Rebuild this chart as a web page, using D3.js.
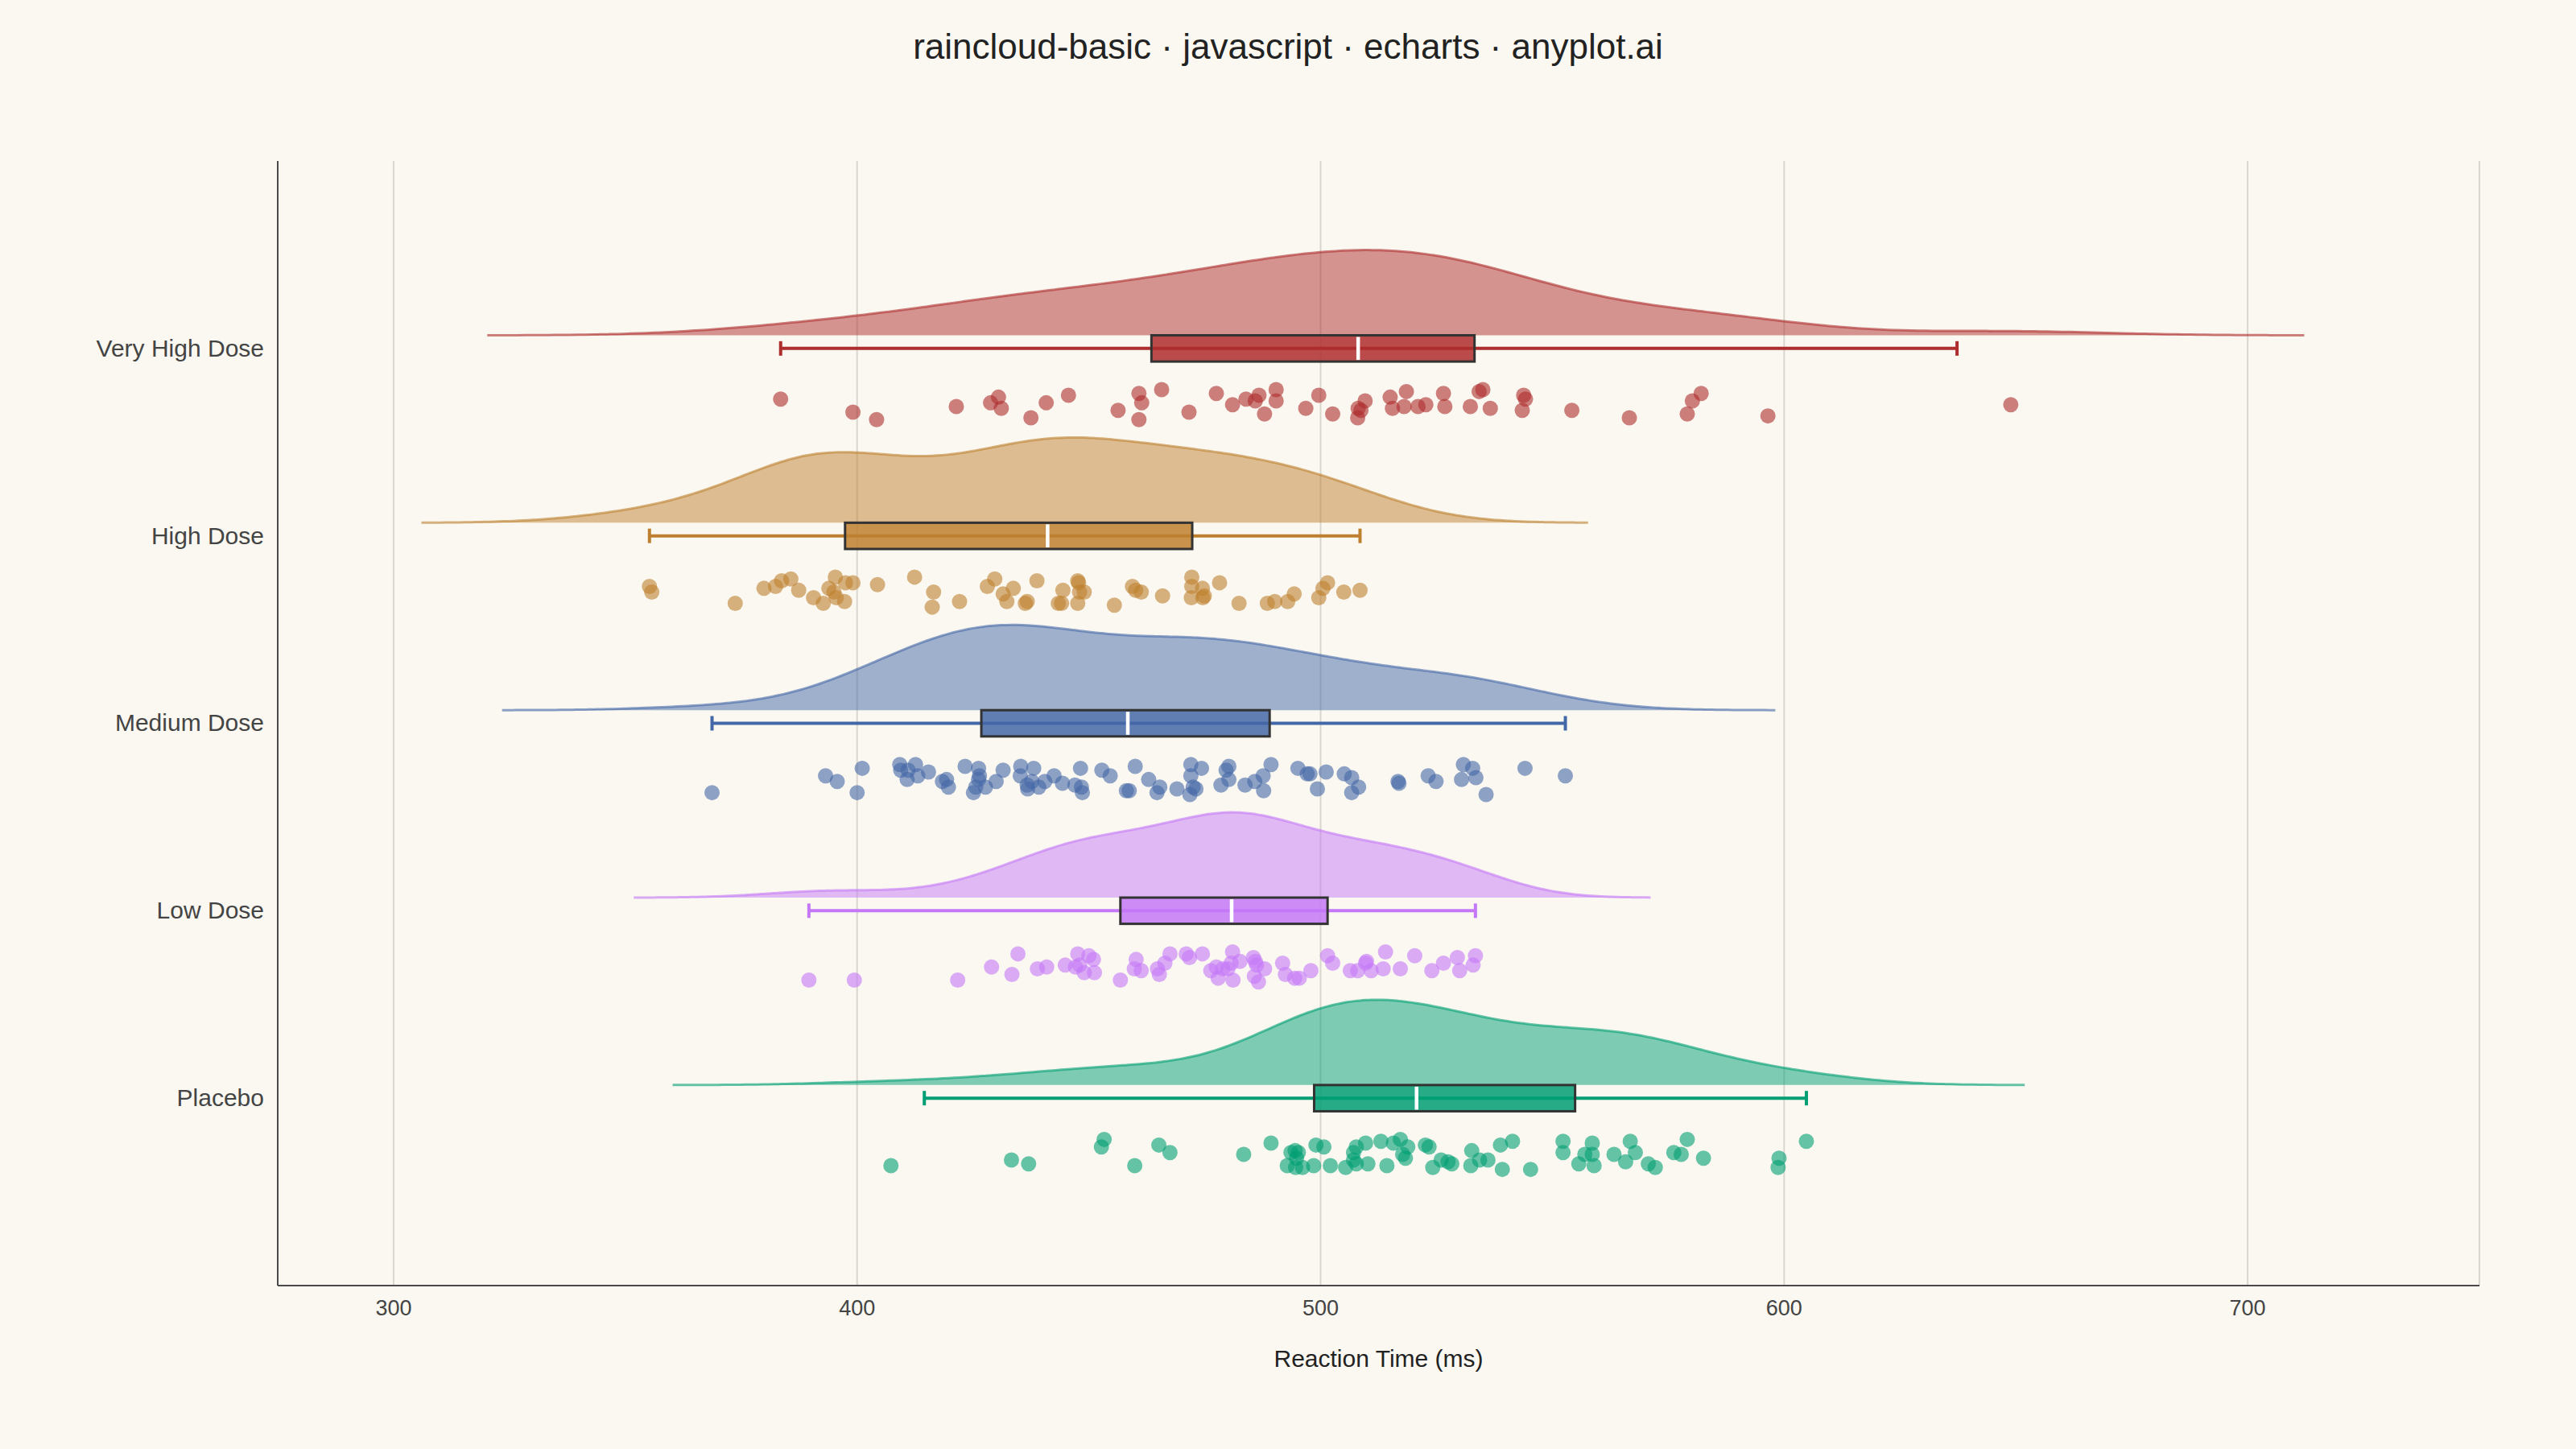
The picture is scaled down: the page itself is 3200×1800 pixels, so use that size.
<!DOCTYPE html>
<html>
<head>
<meta charset="utf-8">
<script src="https://cdn.jsdelivr.net/npm/d3@7"></script>
<style>
body { margin: 0; background: #faf8f1; }
text { font-family: "Liberation Sans", Arial, sans-serif; }
</style>
</head>
<body>
<div id="chart"></div>
<script>
"use strict";

// categories bottom -> top
var categories = ["Placebo", "Low Dose", "Medium Dose", "High Dose", "Very High Dose"];
var colors = ["#009E73", "#C478F7", "#4468A7", "#BE802F", "#AE2D2D"];
var xTicks = [300, 400, 500, 600, 700];

// reaction times (ms) and the vertical jitter of each drop (% of a row, below the box)
var placeboRT = [407.3,433.3,437.0,453.3,452.7,459.9,465.1,467.5,483.4,489.3,493.6,494.5,495.2,494.8,492.8,494.6,496.1,498.5,499.0,500.7,
    502.1,505.4,507.7,507.1,507.1,507.7,509.7,510.2,513.0,514.3,515.7,517.2,518.8,517.7,518.3,522.6,523.4,524.2,526.0,527.5,
    528.3,532.6,532.4,534.3,536.1,538.8,541.4,539.2,545.3,552.3,552.3,555.7,557.0,558.6,558.6,559.0,563.3,566.8,567.9,565.8,
    570.7,572.2,576.2,577.8,579.1,582.6,598.9,598.7,604.8];
var placeboJitter = [36,33,35,22,26,36,25,29,30,24,29,28,29,32,36,37,37,36,25,26,36,37,26,29,33,35,24,35,23,36,24,22,26,30,32,
    25,26,37,33,34,35,28,36,33,33,25,23,38,38,23,29,35,30,24,30,36,30,23,29,34,35,37,29,30,22,32,32,37,23];

var lowRT = [389.6,399.4,421.7,429.0,433.4,434.7,438.9,440.9,444.9,447.6,450.0,451.0,447.1,448.0,449.0,451.2,456.8,460.2,459.8,461.3,
    464.8,465.2,466.4,467.5,471.0,471.7,474.5,476.3,477.5,477.9,478.9,480.0,480.7,481.0,481.1,482.6,485.5,485.9,486.2,487.9,
    485.7,486.6,491.8,492.4,494.4,495.4,497.9,501.5,502.6,506.4,508.0,509.9,509.7,510.9,513.5,514.0,517.2,520.3,524.0,526.5,
    529.5,530.0,532.9,533.4];
var lowJitter = [37,37,37,30,34,23,31,30,29,23,24,26,30,29,33,33,37,26,31,32,31,34,28,23,23,25,23,32,30,36,31,31,28,22,37,
    27,25,27,29,31,35,38,28,34,36,36,32,24,28,32,32,27,28,32,31,22,31,24,32,28,25,32,29,24];

var mediumRT = [368.7,393.2,395.7,401.1,400.0,409.2,409.4,411.0,412.6,410.8,413.1,415.4,418.4,419.3,419.7,423.3,426.2,426.4,426.2,425.6,
    425.1,427.7,430.0,431.5,435.3,435.2,438.1,436.7,436.8,437.7,439.2,440.5,442.5,444.3,447.0,448.4,448.6,448.2,452.8,454.6,
    458.1,458.7,460.0,462.9,464.7,465.3,469.0,472.0,474.3,472.0,472.5,473.1,471.8,480.2,479.6,480.2,478.5,483.7,485.8,487.6,
    487.7,489.3,495.1,497.1,497.7,501.2,499.3,505.1,506.7,508.2,506.7,516.7,516.9,523.2,524.9,530.8,532.8,530.4,533.5,535.7,
    544.1,552.8];
var mediumJitter = [37,28,31,24,37,22,25,25,22,30,28,26,31,30,34,23,24,28,30,34,37,34,31,25,23,28,24,33,35,31,34,31,28,32,33,
    34,37,24,25,28,36,36,23,30,37,34,35,22,24,28,34,35,38,23,25,30,33,33,31,28,36,22,24,27,27,26,35,27,29,34,37,31,32,28,31,
    22,24,30,29,38,24,28];

var highRT = [355.2,355.7,373.7,379.9,382.4,383.7,385.7,387.4,390.6,392.7,393.9,395.3,395.0,395.5,397.3,397.5,399.1,404.4,412.4,416.5,
    416.2,422.1,428.1,429.7,431.5,432.3,433.7,436.3,436.7,438.8,444.4,443.4,444.1,447.6,447.8,448.0,449.0,447.6,455.5,459.4,
    460.1,461.3,465.9,472.2,472.2,472.1,474.5,474.9,474.6,478.2,482.4,488.5,490.1,492.9,494.3,499.6,500.5,501.5,505.0,508.5];
var highJitter = [27,30,36,28,27,24,23,29,33,36,28,22,30,33,35,25,25,26,22,30,38,35,27,23,31,35,28,36,35,24,29,36,36,24,25,
    30,30,36,37,27,29,30,32,22,27,33,28,32,33,25,36,36,35,35,31,33,28,25,30,29];

var veryHighRT = [383.5,399.1,404.2,421.4,428.8,430.5,431.1,437.5,440.8,445.6,456.3,460.8,461.4,460.8,465.7,471.6,477.5,481.0,483.9,485.9,
    486.7,490.4,490.4,487.9,496.8,499.6,502.6,508.1,509.6,508.0,508.7,515.0,515.5,518.5,518.0,521.0,522.7,526.5,526.8,532.3,
    534.2,535.0,536.6,543.8,544.2,543.5,554.2,566.6,579.1,580.2,582.1,596.5,648.9];
var veryHighJitter = [27,34,38,31,29,26,32,37,29,25,33,24,29,38,22,34,24,30,27,28,25,22,28,35,32,25,35,32,28,37,33,26,32,
    23,31,31,30,24,31,31,23,22,32,25,27,33,33,37,35,28,24,36,30];

// box plot statistics
var q1 = [498.6, 456.8, 426.8, 397.4, 463.5];
var medians = [520.7, 480.8, 458.4, 441.1, 508.1];
var q3 = [554.9, 501.5, 489.0, 472.3, 533.2];
var whiskerLow = [414.5, 389.6, 368.7, 355.2, 383.5];
var whiskerHigh = [604.8, 533.4, 552.8, 508.5, 637.3];
// kde bandwidth (ms), read from the extent of each cloud
var kdeBandwidth = [15.7, 12.6, 15.1, 16.4, 21.1];

var groups = [
    { rt: placeboRT, jitter: placeboJitter },
    { rt: lowRT, jitter: lowJitter },
    { rt: mediumRT, jitter: mediumJitter },
    { rt: highRT, jitter: highJitter },
    { rt: veryHighRT, jitter: veryHighJitter }
];

var W = 3200, H = 1800;
var margin = { left: 345, right: 120, top: 200, bottom: 203 };
var boxHalf = 0.07, cloudHeight = 0.455;

var x = d3.scaleLinear().domain([275, 750]).range([margin.left, W - margin.right]);
var y = d3.scaleLinear().domain([-1, 5]).range([H - margin.bottom, margin.top]);

var svg = d3.select("#chart")
    .append("svg")
    .attr("width", W)
    .attr("height", H)
    .style("background", "#faf8f1");

svg.append("text")
    .attr("x", W / 2)
    .attr("y", 73)
    .attr("text-anchor", "middle")
    .attr("font-size", 44)
    .attr("fill", "#222")
    .text("raincloud-basic · javascript · echarts · anyplot.ai");

// grid
svg.append("g").selectAll("line")
    .data(xTicks.concat([750]))
    .enter().append("line")
    .attr("x1", d => x(d)).attr("x2", d => x(d))
    .attr("y1", y(5)).attr("y2", y(-1))
    .attr("stroke", "#d9d6ce")
    .attr("stroke-width", 2);

function kde(values, bw) {
    var lo = d3.min(values) - 3 * bw, hi = d3.max(values) + 3 * bw;
    return d3.range(0, 241).map(function(i) {
        var g = lo + (hi - lo) * i / 240;
        return [g, d3.sum(values, v => Math.exp(-0.5 * Math.pow((g - v) / bw, 2)))];
    });
}

var rows = svg.append("g");

groups.forEach(function(grp, i) {
    var col = colors[i];
    var dens = kde(grp.rt, kdeBandwidth[i]);
    var dmax = d3.max(dens, d => d[1]);
    var base = i + boxHalf;

    var area = d3.area()
        .x(d => x(d[0]))
        .y0(y(base))
        .y1(d => y(base + cloudHeight * d[1] / dmax))
        .curve(d3.curveBasis);
    var line = d3.line()
        .x(d => x(d[0]))
        .y(d => y(base + cloudHeight * d[1] / dmax))
        .curve(d3.curveBasis);

    var g = rows.append("g");
    g.append("path")
        .attr("d", area(dens))
        .attr("fill", col)
        .attr("fill-opacity", 0.5);
    g.append("path")
        .attr("d", line(dens))
        .attr("fill", "none")
        .attr("stroke", col)
        .attr("stroke-opacity", 0.6)
        .attr("stroke-width", 3);

    // whisker
    g.append("line")
        .attr("x1", x(whiskerLow[i])).attr("x2", x(whiskerHigh[i]))
        .attr("y1", y(i)).attr("y2", y(i))
        .attr("stroke", col).attr("stroke-width", 4);
    [whiskerLow[i], whiskerHigh[i]].forEach(function(v) {
        g.append("line")
            .attr("x1", x(v)).attr("x2", x(v))
            .attr("y1", y(i) - 9).attr("y2", y(i) + 9)
            .attr("stroke", col).attr("stroke-width", 4);
    });

    // box
    g.append("rect")
        .attr("x", x(q1[i]))
        .attr("y", y(i + boxHalf))
        .attr("width", x(q3[i]) - x(q1[i]))
        .attr("height", y(i - boxHalf) - y(i + boxHalf))
        .attr("fill", col)
        .attr("fill-opacity", 0.85)
        .attr("stroke", "#333")
        .attr("stroke-width", 3);
    g.append("line")
        .attr("x1", x(medians[i])).attr("x2", x(medians[i]))
        .attr("y1", y(i + boxHalf) + 2).attr("y2", y(i - boxHalf) - 2)
        .attr("stroke", "#fff").attr("stroke-width", 4.5);

    // rain
    g.selectAll("circle")
        .data(grp.rt)
        .enter().append("circle")
        .attr("cx", d => x(d))
        .attr("cy", (d, k) => y(i - grp.jitter[k] / 100))
        .attr("r", 9.5)
        .attr("fill", col)
        .attr("fill-opacity", 0.6);
});

// axes
svg.append("line")
    .attr("x1", x(275)).attr("x2", x(275))
    .attr("y1", y(5)).attr("y2", y(-1))
    .attr("stroke", "#4a4a4a").attr("stroke-width", 2);
svg.append("line")
    .attr("x1", x(275)).attr("x2", x(750))
    .attr("y1", y(-1)).attr("y2", y(-1))
    .attr("stroke", "#4a4a4a").attr("stroke-width", 2);

svg.append("g").selectAll("text")
    .data(xTicks)
    .enter().append("text")
    .attr("x", d => x(d))
    .attr("y", 1634)
    .attr("text-anchor", "middle")
    .attr("font-size", 27)
    .attr("fill", "#444")
    .text(d => d);

svg.append("g").selectAll("text")
    .data(categories)
    .enter().append("text")
    .attr("x", 328)
    .attr("y", (d, i) => y(i))
    .attr("dy", "0.33em")
    .attr("text-anchor", "end")
    .attr("font-size", 30)
    .attr("fill", "#444")
    .text(d => d);

svg.append("text")
    .attr("x", (x(275) + x(750)) / 2)
    .attr("y", 1698)
    .attr("text-anchor", "middle")
    .attr("font-size", 30)
    .attr("fill", "#222")
    .text("Reaction Time (ms)");
</script>
</body>
</html>
